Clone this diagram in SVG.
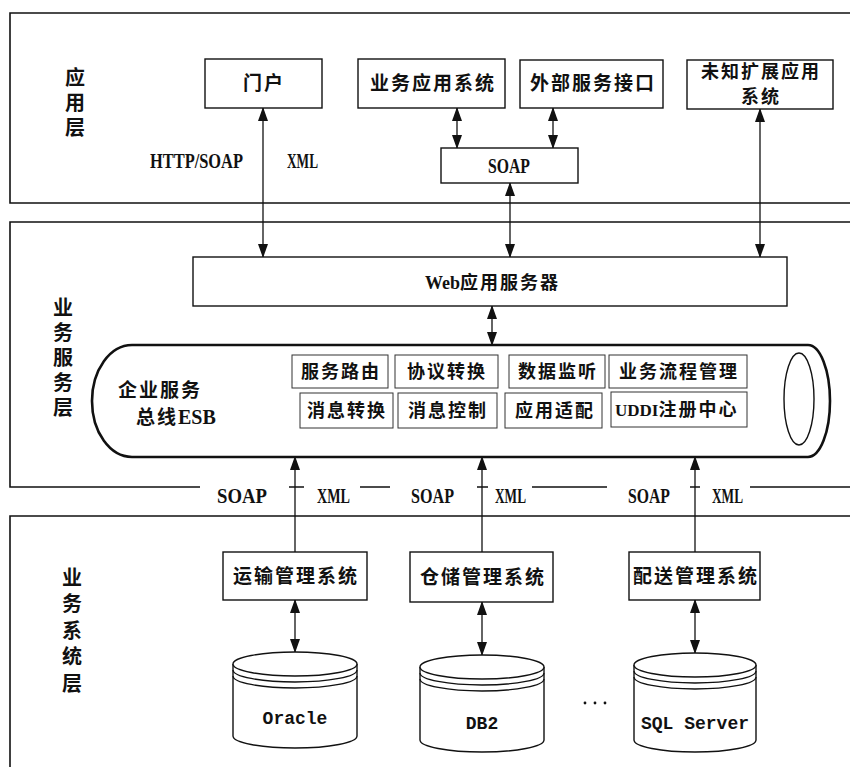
<svg xmlns="http://www.w3.org/2000/svg" width="850" height="767" viewBox="0 0 850 767">
  <style>
    .layer { fill: none; stroke: #111; stroke-width: 1.6; }
    .box { fill: #fff; stroke: #111; stroke-width: 1.4; }
    .sub { fill: #fff; stroke: #333; stroke-width: 1; }
    .pipe { fill: #fff; stroke: #111; stroke-width: 2.6; }
    .wire { fill: none; stroke: #111; stroke-width: 1.3; }
    .cn { font-family: "Noto Sans CJK SC", "Noto Sans", sans-serif; font-weight: 700; font-size: 19px; fill: #111; text-anchor: middle; letter-spacing: 2px; }
    .cs { font-family: "Noto Sans CJK SC", "Noto Sans", sans-serif; font-weight: 700; font-size: 18px; fill: #111; text-anchor: middle; letter-spacing: 2px; }
    .side { font-family: "Noto Sans CJK SC", "Noto Sans", sans-serif; font-weight: 700; font-size: 20px; fill: #111; writing-mode: vertical-rl; }
    .lat { font-family: "Liberation Serif", serif; font-weight: 700; font-size: 22px; fill: #111; }
    .mono { font-family: "Liberation Mono", monospace; font-weight: 700; font-size: 18px; fill: #111; text-anchor: middle; }
    .db { fill: #fff; stroke: #111; stroke-width: 1.4; }
  </style>
  <defs>
    <marker id="head" viewBox="0 0 14 10" refX="13" refY="5" markerWidth="14" markerHeight="10" markerUnits="userSpaceOnUse" orient="auto-start-reverse">
      <path d="M0,0 L14,5 L0,10 z" fill="#111"/>
    </marker>
  </defs>

  <rect width="850" height="767" fill="#fff"/>

  <!-- layer frames -->
  <g id="layer-app">
    <path class="layer" d="M852,13 H10 V203 H852"/>
    <text class="side" x="75" y="67" letter-spacing="5">应用层</text>
  </g>
  <g id="layer-service">
    <path class="layer" d="M852,222 H10 V487 H200"/>
    <path class="layer" d="M289,487 H304 M360,487 H390 M477,487 H488 M532,487 H607 M690,487 H700 M750,487 H852"/>
    <text class="side" x="63" y="297" letter-spacing="5">业务服务层</text>
  </g>
  <g id="layer-system">
    <path class="layer" d="M852,516 H10 V770"/>
    <text class="side" x="72" y="567" letter-spacing="6.5">业务系统层</text>
  </g>

  <!-- connectors -->
  <g id="connectors">
    <line class="wire" x1="263" y1="108" x2="263" y2="257" marker-start="url(#head)" marker-end="url(#head)"/>
    <line class="wire" x1="457" y1="108" x2="457" y2="148" marker-start="url(#head)" marker-end="url(#head)"/>
    <line class="wire" x1="553" y1="108" x2="553" y2="148" marker-start="url(#head)" marker-end="url(#head)"/>
    <line class="wire" x1="510" y1="183" x2="510" y2="257" marker-start="url(#head)" marker-end="url(#head)"/>
    <line class="wire" x1="760" y1="109" x2="760" y2="257" marker-start="url(#head)" marker-end="url(#head)"/>
    <line class="wire" x1="492" y1="306" x2="492" y2="345" marker-start="url(#head)" marker-end="url(#head)"/>
    <line class="wire" x1="295" y1="552" x2="295" y2="457" marker-end="url(#head)"/>
    <line class="wire" x1="482" y1="552" x2="482" y2="457" marker-end="url(#head)"/>
    <line class="wire" x1="695" y1="552" x2="695" y2="457" marker-end="url(#head)"/>
    <line class="wire" x1="295" y1="600" x2="295" y2="652" marker-start="url(#head)" marker-end="url(#head)"/>
    <line class="wire" x1="482" y1="602" x2="482" y2="655" marker-start="url(#head)" marker-end="url(#head)"/>
    <line class="wire" x1="695" y1="600" x2="695" y2="653" marker-start="url(#head)" marker-end="url(#head)"/>

    <!-- protocol labels -->
    <text class="lat" x="150" y="168" textLength="93" lengthAdjust="spacingAndGlyphs">HTTP/SOAP</text>
    <text class="lat" x="287" y="168" textLength="31" lengthAdjust="spacingAndGlyphs">XML</text>
    <text class="lat" x="217" y="503" textLength="50" lengthAdjust="spacingAndGlyphs">SOAP</text>
    <text class="lat" x="317" y="503" textLength="33" lengthAdjust="spacingAndGlyphs">XML</text>
    <text class="lat" x="411" y="503" textLength="43" lengthAdjust="spacingAndGlyphs">SOAP</text>
    <text class="lat" x="495" y="503" textLength="31" lengthAdjust="spacingAndGlyphs">XML</text>
    <text class="lat" x="628" y="503" textLength="42" lengthAdjust="spacingAndGlyphs">SOAP</text>
    <text class="lat" x="712" y="503" textLength="31" lengthAdjust="spacingAndGlyphs">XML</text>
  </g>

  <!-- application layer -->
  <g id="portal">
    <rect class="box" x="205" y="59" width="117" height="49"/>
    <text class="cn" x="264" y="90">门户</text>
  </g>
  <g id="business-apps">
    <rect class="box" x="358" y="59" width="147" height="49"/>
    <text class="cn" x="433" y="90">业务应用系统</text>
  </g>
  <g id="external-service">
    <rect class="box" x="520" y="60" width="143" height="48"/>
    <text class="cn" x="593" y="90">外部服务接口</text>
  </g>
  <g id="unknown-ext">
    <rect class="box" x="687" y="60" width="146" height="49"/>
    <text class="cs" x="761" y="78" letter-spacing="2.3">未知扩展应用<tspan x="761" dy="25">系统</tspan></text>
  </g>
  <g id="soap">
    <rect class="box" x="441" y="148" width="137" height="35"/>
    <text class="lat" x="488" y="173" textLength="42" lengthAdjust="spacingAndGlyphs">SOAP</text>
  </g>

  <!-- service layer -->
  <g id="web-server">
    <rect class="box" x="193" y="257" width="594" height="49"/>
    <text class="cs" x="425" y="289" style="text-anchor:start"><tspan font-family="Liberation Serif, serif" font-size="18" letter-spacing="0">Web</tspan>应用服务器</text>
  </g>
  <g id="esb">
    <path class="pipe" d="M132,345 H808 A22,56 0 0 1 808,457 H132 A40,56 0 0 1 132,345 Z"/>
    <ellipse cx="799" cy="399" rx="15" ry="46" fill="none" stroke="#111" stroke-width="1.4"/>
    <text class="cn" x="160" y="397">企业服务</text>
    <text class="cn" x="136" y="424" style="text-anchor:start">总线<tspan font-family="Liberation Serif, serif" letter-spacing="0" font-size="20">ESB</tspan></text>
  </g>
  <g id="routing">
    <rect class="sub" x="292" y="355" width="96" height="33"/>
    <text class="cs" x="341" y="378">服务路由</text>
  </g>
  <g id="protocol">
    <rect class="sub" x="395" y="355" width="103" height="33"/>
    <text class="cs" x="447" y="378">协议转换</text>
  </g>
  <g id="listen">
    <rect class="sub" x="509" y="355" width="96" height="33"/>
    <text class="cs" x="558" y="378">数据监听</text>
  </g>
  <g id="process">
    <rect class="sub" x="609" y="355" width="138" height="33"/>
    <text class="cs" x="679" y="378">业务流程管理</text>
  </g>
  <g id="msg-transform">
    <rect class="sub" x="300" y="393" width="93" height="35"/>
    <text class="cs" x="347" y="417">消息转换</text>
  </g>
  <g id="msg-control">
    <rect class="sub" x="398" y="393" width="99" height="35"/>
    <text class="cs" x="448" y="417">消息控制</text>
  </g>
  <g id="adapter">
    <rect class="sub" x="505" y="393" width="97" height="35"/>
    <text class="cs" x="555" y="417">应用适配</text>
  </g>
  <g id="uddi">
    <rect class="sub" x="611" y="392" width="136" height="35"/>
    <text class="cs" x="615" y="416" style="text-anchor:start"><tspan font-family="Liberation Serif, serif" font-size="17" letter-spacing="0">UDDI</tspan>注册中心</text>
  </g>

  <!-- business system layer -->
  <g id="transport">
    <rect class="box" x="223" y="552" width="144" height="48"/>
    <text class="cn" x="296" y="583">运输管理系统</text>
  </g>
  <g id="warehouse">
    <rect class="box" x="410" y="552" width="143" height="50"/>
    <text class="cn" x="483" y="584">仓储管理系统</text>
  </g>
  <g id="delivery">
    <rect class="box" x="629" y="552" width="131" height="48"/>
    <text class="cn" x="696" y="583">配送管理系统</text>
  </g>

  <g id="oracle">
    <path class="db" d="M233,664 V736 A62,12 0 0 0 357,736 V664"/>
    <ellipse class="db" cx="295" cy="664" rx="62" ry="12"/>
    <path class="wire" d="M233,670 A62,12 0 0 0 357,670 M233,676 A62,12 0 0 0 357,676"/>
    <text class="mono" x="295" y="724">Oracle</text>
  </g>
  <g id="db2">
    <path class="db" d="M420,667 V740 A62,12 0 0 0 544,740 V667"/>
    <ellipse class="db" cx="482" cy="667" rx="62" ry="12"/>
    <path class="wire" d="M420,673 A62,12 0 0 0 544,673 M420,679 A62,12 0 0 0 544,679"/>
    <text class="mono" x="482" y="729">DB2</text>
  </g>
  <g id="sqlserver">
    <path class="db" d="M634,665 V740 A61,12 0 0 0 756,740 V665"/>
    <ellipse class="db" cx="695" cy="665" rx="61" ry="12"/>
    <path class="wire" d="M634,671 A61,12 0 0 0 756,671 M634,677 A61,12 0 0 0 756,677"/>
    <text class="mono" x="695" y="729">SQL Server</text>
  </g>
  <g id="more">
    <circle cx="585" cy="703" r="1.4" fill="#111"/>
    <circle cx="595" cy="703" r="1.4" fill="#111"/>
    <circle cx="605" cy="703" r="1.4" fill="#111"/>
  </g>
</svg>
